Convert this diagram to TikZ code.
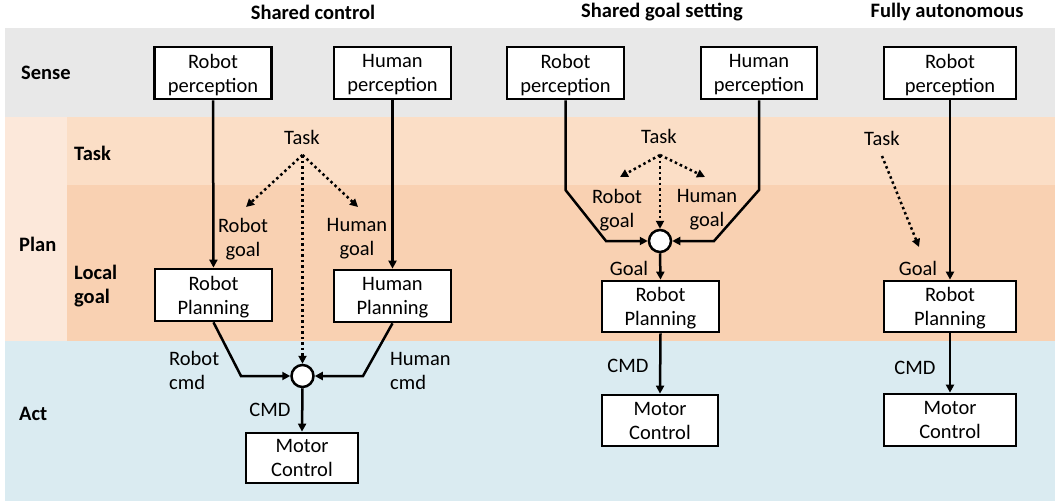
\documentclass[tikz,border=0pt]{standalone}
\usepackage{fontspec}
\setmainfont{Carlito}
\usetikzlibrary{arrows.meta}
\definecolor{sensebg}{HTML}{E8E8E8}
\definecolor{planleft}{HTML}{FCE8DA}
\definecolor{taskbg}{HTML}{FBDEC6}
\definecolor{localbg}{HTML}{F9D1B2}
\definecolor{actbg}{HTML}{DAEBF1}
\begin{document}
\begin{tikzpicture}[x=1pt,y=-1pt,
  every node/.style={font=\fontsize{20.5}{24}\selectfont, inner sep=0pt, align=center},
  box/.style={draw=black, fill=white, line width=2.7pt, minimum width=117pt, minimum height=52pt, text depth=0pt, inner ysep=2pt},
  wbox/.style={box, minimum width=132pt},
  junc/.style={draw=black, fill=white, line width=2.5pt, circle, minimum size=22pt},
  conn/.style={line width=2.5pt, -{Triangle[length=8pt,width=8pt]}},
  plain/.style={line width=2.5pt},
  dots/.style={line width=2.5pt, dash pattern=on 2.5pt off 3pt, -{Triangle[length=8pt,width=8pt]}},
  head/.style={font=\fontsize{20.5}{24}\selectfont\bfseries},
  side/.style={font=\fontsize{20.5}{24}\selectfont\bfseries, anchor=west, align=left}]
\useasboundingbox (0,0) rectangle (1055,501);
% bands
\fill[sensebg] (5,28) rectangle (1055,117);
\fill[planleft] (5,117) rectangle (67,341);
\fill[taskbg] (67,117) rectangle (1055,185);
\fill[localbg] (67,185) rectangle (1055,341);
\fill[actbg] (5,341) rectangle (1055,501);
% titles
\node[head] (t1) at (313,12) {Shared control};
\node[head] (t2) at (662,12) {Shared goal setting};
\node[head] (t3) at (947,12) {Fully autonomous};
% row labels
\node[side] (lsense) at (21,73) {Sense};
\node[side] (ltask) at (74,153) {Task};
\node[side] (lplan) at (19,244) {Plan};
\node[side] (llocal) at (74,286) {Local\\goal};
\node[side] (lact) at (19,414) {Act};
% ---------- Shared control ----------
\node[box] (rp1) at (213,73) {Robot\\perception};
\node[box] (hp1) at (392.5,73) {Human\\perception};
\node[box] (rpl1) at (213.5,295) {Robot\\Planning};
\node[box] (hpl1) at (392.5,296) {Human\\Planning};
\node[box, minimum width=112pt, minimum height=50pt] (mc1) at (302,458) {Motor\\Control};
\node[junc] (j1) at (302.5,376) {};
\node (task1) at (302,137) {Task};
\coordinate (ts1) at (302.5,155);
\coordinate (rg1t) at (246,207);
\coordinate (hg1t) at (358,207);
\node (rg1) at (243,239) {Robot\\goal};
\node (hg1) at (357,239) {Human\\goal};
\node[align=left, anchor=west] (rc1) at (169,370.5) {Robot\\cmd};
\node[align=left, anchor=west] (hc1) at (390,370.5) {Human\\cmd};
\node (cmd1) at (270,410) {CMD};
\coordinate (rk1) at (241,376);
\coordinate (hk1) at (363,376);
\draw[conn] (rp1) -- (rpl1);
\draw[conn] (hp1) -- (hpl1);
\draw[dots] (ts1) -- (rg1t);
\draw[dots] (ts1) -- (hg1t);
\draw[dots] (ts1) -- (j1.north);
\draw[conn] (rpl1.south) -- (rk1) -- (j1.west);
\draw[conn] (hpl1.south) -- (hk1) -- (j1.east);
\draw[conn] (j1.south) -- (mc1.north);
% ---------- Shared goal setting ----------
\node[box] (rp2) at (565.5,73) {Robot\\perception};
\node[box, minimum width=116pt] (hp2) at (759,73) {Human\\perception};
\node[box, minimum height=51pt] (rpl2) at (660.5,306.5) {Robot\\Planning};
\node[box, minimum width=116pt, minimum height=51pt] (mc2) at (660,420.5) {Motor\\Control};
\node[junc] (j2) at (660,241) {};
\node (task2) at (659,136) {Task};
\coordinate (ts2) at (660,155);
\coordinate (rg2t) at (620,177);
\coordinate (hg2t) at (705,177);
\node (rg2) at (617,210) {Robot\\goal};
\node (hg2) at (707,210) {Human\\goal};
\node (goal2) at (629,268) {Goal};
\node (cmd2) at (628,366) {CMD};
\coordinate (ra2) at (565.5,190);
\coordinate (rb2) at (606,241);
\coordinate (ha2) at (759,190);
\coordinate (hb2) at (714,241);
\draw[dots] (ts2) -- (rg2t);
\draw[dots] (ts2) -- (hg2t);
\draw[dots] (ts2) -- (j2.north);
\draw[conn] (rp2.south) -- (ra2) -- (rb2) -- (j2.west);
\draw[conn] (hp2.south) -- (ha2) -- (hb2) -- (j2.east);
\draw[conn] (j2.south) -- (rpl2.north);
\draw[conn] (rpl2.south) -- (mc2.north);
% ---------- Fully autonomous ----------
\node[wbox] (rp3) at (950,73) {Robot\\perception};
\node[wbox, minimum height=51pt] (rpl3) at (950,306.5) {Robot\\Planning};
\node[wbox] (mc3) at (950,420) {Motor\\Control};
\node (task3) at (882,138) {Task};
\coordinate (ts3) at (882,156);
\coordinate (te3) at (919,247);
\node (goal3) at (918,268) {Goal};
\node (cmd3) at (915,368) {CMD};
\draw[dots] (ts3) -- (te3);
\draw[conn] (rp3) -- (rpl3);
\draw[conn] (rpl3) -- (mc3);
\end{tikzpicture}
\end{document}
